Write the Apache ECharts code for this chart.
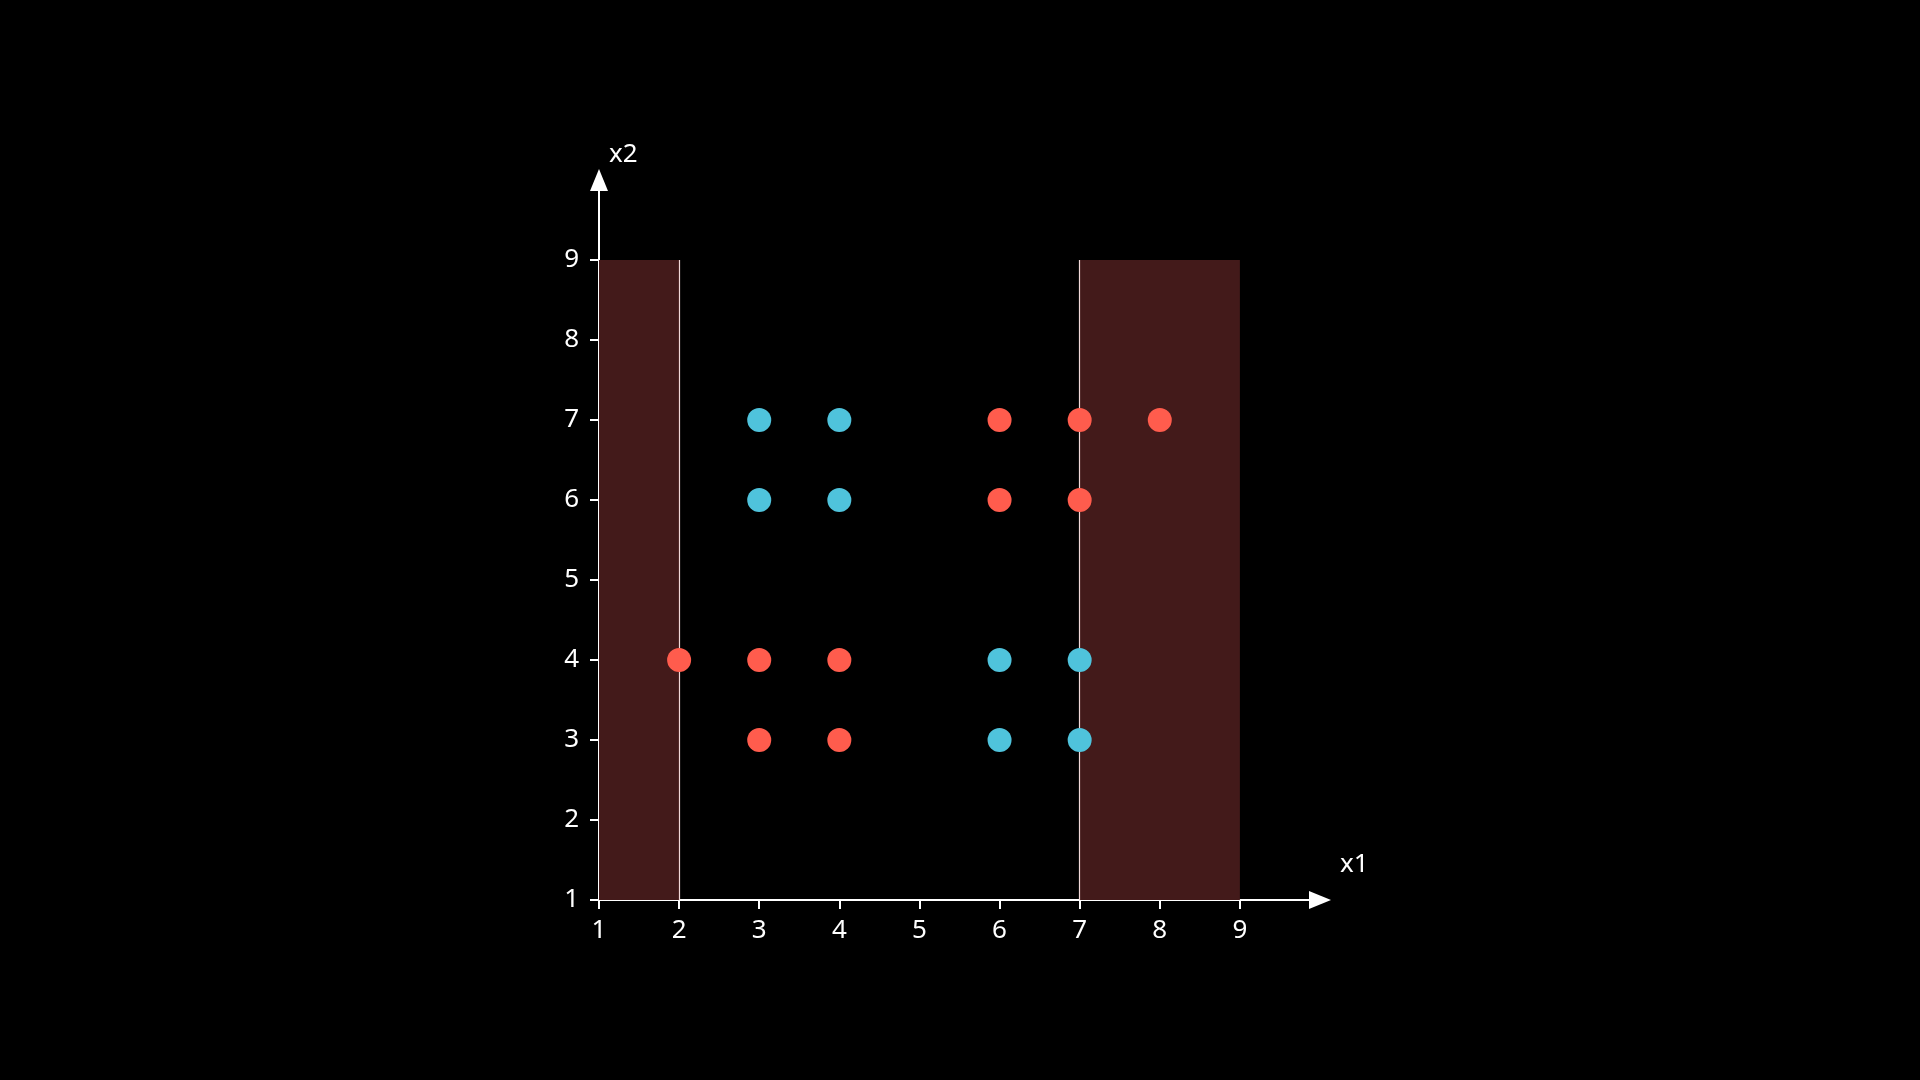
<!DOCTYPE html>
<html><head><meta charset="utf-8">
<script src="https://cdn.jsdelivr.net/npm/echarts@6/dist/echarts.min.js"></script>
<style>html,body{margin:0;background:#000}#c{width:1920px;height:1080px}</style>
</head><body><div id="c"></div>
<script>
const ticks = [1,2,3,4,5,6,7,8,9];
const blue = [[3,7],[4,7],[3,6],[4,6],[6,4],[7,4],[6,3],[7,3]];
const red = [[6,7],[7,7],[8,7],[6,6],[7,6],[2,4],[3,4],[4,4],[3,3],[4,3]];
const shaded = [[1,2],[7,9]];
const lines = [2,7];
const ymin = 1, ymax = 9;
const font = 'Noto Sans';
const ax = (name, isX) => ({
  type:'value', min:1, max:10, interval:1, name:name,
  nameLocation:'end', nameGap: isX ? 10 : 12,
  nameTextStyle:{color:'#fff', fontSize:26, fontFamily:font,
    align: isX ? 'left' : 'left', verticalAlign: isX ? 'bottom' : 'bottom',
    padding: isX ? [0,0,22,10] : [0,0,0,10]},
  splitLine:{show:false},
  axisLine:{show:true, lineStyle:{color:'#fff', width:2}, symbol:['none','triangle'], symbolSize:[18,22]},
  axisTick:{show:true, length:9, lineStyle:{color:'#fff', width:2}, customValues:ticks},
  axisLabel:{color:'#fff', fontSize:26, fontFamily:font, margin:isX?18:20, customValues:ticks}
});
const chart = echarts.init(document.getElementById('c'));
chart.setOption({
  backgroundColor:'#000',
  animation:false,
  grid:{left:599, right:600, top:180, bottom:180},
  xAxis: ax('x1', true),
  yAxis: ax('x2', false),
  series:[
    {type:'scatter', data:red, symbolSize:24, itemStyle:{color:'#ff5c4d', opacity:1}, z:5,
     markArea:{silent:true, itemStyle:{color:'#431a1a'},
       data: shaded.map(s=>[{coord:[s[0],ymin]},{coord:[s[1],ymax]}])},
     markLine:{silent:true, symbol:'none', label:{show:false},
       lineStyle:{color:'#f0d8d8', width:1.2, type:'solid'},
       data: lines.map(x=>[{coord:[x,ymin]},{coord:[x,ymax]}])}},
    {type:'scatter', data:blue, symbolSize:24, itemStyle:{color:'#4fc3dc', opacity:1}, z:5}
  ]
});
</script></body></html>
